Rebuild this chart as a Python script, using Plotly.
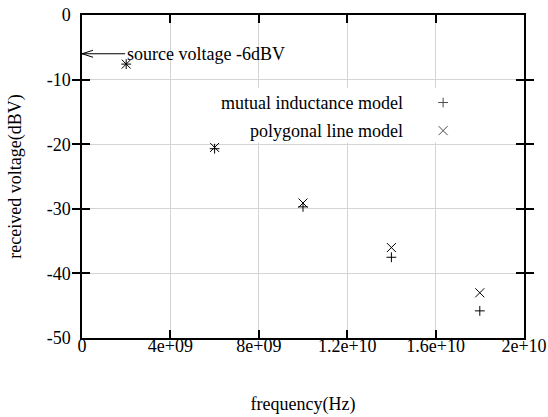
import plotly.graph_objects as go

# Received voltage vs. frequency for two line models
freq_hz = [2e9, 6e9, 1e10, 1.4e10, 1.8e10]
mutual_inductance_dbv = [-7.6, -20.7, -29.7, -37.5, -45.8]
polygonal_line_dbv = [-7.6, -20.5, -29.1, -36.0, -43.0]

x_tickvals = [0, 4e9, 8e9, 1.2e10, 1.6e10, 2e10]
x_ticktext = ["0", "4e+09", "8e+09", "1.2e+10", "1.6e+10", "2e+10"]
y_tickvals = [0, -10, -20, -30, -40, -50]
y_ticktext = ["0", "-10", "-20", "-30", "-40", "-50"]

source_level_dbv = -6
source_label = "source voltage -6dBV"
series_names = ["mutual inductance model", "polygonal line model"]
series_symbols = ["cross-thin", "x-thin"]
series_sizes = [7, 9]

FONT = "Liberation Serif"
FS = 18
GRID = "#d4d4d4"

fig = go.Figure()

for name, vals, sym, sz in zip(series_names,
                               [mutual_inductance_dbv, polygonal_line_dbv],
                               series_symbols, series_sizes):
    fig.add_trace(go.Scatter(
        x=freq_hz, y=vals, mode="markers", name=name, showlegend=False,
        marker=dict(symbol=sym, size=sz, color="black",
                    line=dict(color="black", width=1)),
        xaxis="x", yaxis="y",
    ))

# White panel behind the legend, on an overlay axis spanning [0, 1]
px0, px1, py0, py1 = 0.31, 0.997, 0.605, 0.775
fig.add_trace(go.Scatter(
    x=[px0, px1, px1, px0, px0], y=[py0, py0, py1, py1, py0],
    mode="lines", fill="toself", fillcolor="white",
    line=dict(width=0, color="white"), showlegend=False,
    xaxis="x2", yaxis="y2", hoverinfo="skip",
))

# Key markers for the legend
key_rows = [0.729, 0.642]
fig.add_trace(go.Scatter(
    x=[0.817, 0.817], y=key_rows, mode="markers", showlegend=False,
    marker=dict(symbol=series_symbols, size=series_sizes, color="black",
                line=dict(color="black", width=1)),
    xaxis="x2", yaxis="y2", hoverinfo="skip",
))

axis_common = dict(
    showline=True, linecolor="black", linewidth=1.5, mirror="allticks",
    ticks="inside", ticklen=8, tickwidth=1.5, tickcolor="black",
    showgrid=True, gridcolor=GRID, gridwidth=1, zeroline=False,
    automargin=False,
    tickfont=dict(family=FONT, size=FS, color="black"),
)

fig.update_layout(
    width=548, height=417,
    margin=dict(l=82, r=24, t=15, b=79),
    paper_bgcolor="white", plot_bgcolor="white",
    font=dict(family=FONT, size=FS, color="black"),
    xaxis=dict(range=[0, 2e10], tickvals=x_tickvals, showticklabels=False,
               title=dict(text="frequency(Hz)", standoff=59,
                          font=dict(family=FONT, size=FS)),
               **axis_common),
    yaxis=dict(range=[-50, 0], tickvals=y_tickvals, ticktext=y_ticktext,
               ticklabelstandoff=6,
               title=dict(text="received voltage(dBV)", standoff=20,
                          font=dict(family=FONT, size=FS)),
               **axis_common),
    xaxis2=dict(range=[0, 1], overlaying="x", visible=False, fixedrange=True),
    yaxis2=dict(range=[0, 1], overlaying="y", visible=False, fixedrange=True),
    # frequency tick labels, set slightly closer to the bottom frame
    xaxis3=dict(range=[0, 2e10], overlaying="x", anchor="free",
                position=0.016, tickvals=x_tickvals, ticktext=x_ticktext,
                showline=False, ticks="", showgrid=False, zeroline=False,
                automargin=False, fixedrange=True,
                tickfont=dict(family=FONT, size=FS, color="black")),
    showlegend=False,
)

# An empty trace so the label axis is laid out
fig.add_trace(go.Scatter(x=[], y=[], xaxis="x3", yaxis="y",
                         showlegend=False, hoverinfo="skip"))

for name, yr in zip(series_names, key_rows):
    fig.add_annotation(text=name, xref="x domain", yref="y domain",
                       x=0.731, y=yr, xanchor="right", yanchor="middle",
                       showarrow=False, font=dict(family=FONT, size=FS))

# Source level label with arrow pointing to the voltage axis
fig.add_annotation(text=source_label, x=0, y=source_level_dbv,
                   ax=1.95e9, ay=source_level_dbv, axref="x", ayref="y",
                   xanchor="left", yanchor="middle",
                   showarrow=True, arrowhead=0, arrowwidth=1,
                   arrowcolor="black", standoff=0,
                   font=dict(family=FONT, size=FS))
fig.add_shape(type="path", xref="x", yref="y",
              xsizemode="pixel", ysizemode="pixel",
              xanchor=0, yanchor=source_level_dbv,
              path="M 11,3.5 L 0,0 L 11,-3.5",
              line=dict(color="black", width=1))

fig.write_html("out.html")
